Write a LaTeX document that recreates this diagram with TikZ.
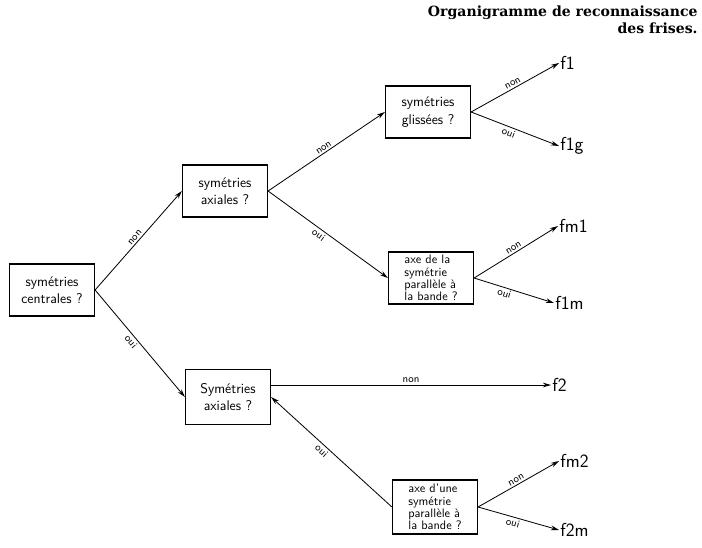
\documentclass[tikz,border=0pt]{standalone}
\usepackage{fontspec}
\newfontfamily\titlefont{DejaVu Serif}
\usetikzlibrary{arrows.meta}
\begin{document}
\begin{tikzpicture}[x=0.03cm,y=-0.03cm,
  boite/.style={draw,line width=1pt,minimum width=2.55cm,minimum height=1.56cm,font=\sffamily\large,align=center,inner sep=2pt},
  petit/.style={font={\sffamily\fontsize{10.5}{10.5}\selectfont},align=left},
  fleche/.style={-{Stealth[length=7pt,width=4pt]},line width=0.7pt},
  rep/.style={font=\sffamily\small,sloped,inner sep=1.5pt},
  frise/.style={font={\sffamily\fontsize{16}{18}\selectfont},anchor=west,inner sep=1pt}]
\useasboundingbox (0,0) rectangle (702,547);
\node[anchor=north east,align=right,font={\titlefont\bfseries\fontsize{12}{15}\selectfont},inner sep=1pt] (titre) at (699,4) {Organigramme de reconnaissance\\des frises.};
% questions
\node[boite] (centr) at (52,290) {symétries\\[1pt]centrales ?};
\node[boite] (axa) at (225,191) {symétries\\[1pt]axiales ?};
\node[boite,minimum height=1.65cm] (axb) at (228,397) {Symétries\\[1pt]axiales ?};
\node[boite] (gliss) at (428,112) {symétries\\[1pt]glissées ?};
\node[boite,petit] (axea) at (431,278) {axe de la\\symétrie\\parallèle à\\la bande ?};
\node[boite,petit,minimum height=1.62cm] (axeb) at (435,507) {axe d'une\\symétrie\\parallèle à\\la bande ?};
% frises
\node[frise] (f1) at (559,63) {f1};
\node[frise] (f1g) at (559,146) {f1g};
\node[frise] (fm1) at (558,226) {fm1};
\node[frise] (f1m) at (554,303) {f1m};
\node[frise] (f2) at (551,385) {f2};
\node[frise] (fm2) at (559,461) {fm2};
\node[frise] (f2m) at (559,530) {f2m};
% flèches
\draw[fleche] (centr.east) -- node[rep,above]{non} (axa.west);
\draw[fleche] (centr.east) -- node[rep,below,pos=0.45]{oui} (axb.west);
\draw[fleche] (axa.east) -- node[rep,above]{non} (gliss.west);
\draw[fleche] (axa.east) -- node[rep,below,pos=0.45]{oui} (axea.west);
\draw[fleche] (gliss.east) -- node[rep,above]{non} (f1.west);
\draw[fleche] (gliss.east) -- node[rep,below,pos=0.45]{oui} (f1g.west);
\draw[fleche] (axea.east) -- node[rep,above]{non} (fm1.west);
\draw[fleche] (axea.east) -- node[rep,below,pos=0.4]{oui} (f1m.west);
\draw[fleche] (axb.east |- f2.west) -- node[rep,above]{non} (f2.west);
\draw[fleche,{Stealth[length=7pt,width=4pt]}-] (axb.east) -- node[rep,below,pos=0.45]{oui} (axeb.west);
\draw[fleche] (axeb.east) -- node[rep,above]{non} (fm2.west);
\draw[fleche] (axeb.east) -- node[rep,below,pos=0.45]{oui} (f2m.west);
\end{tikzpicture}
\end{document}
